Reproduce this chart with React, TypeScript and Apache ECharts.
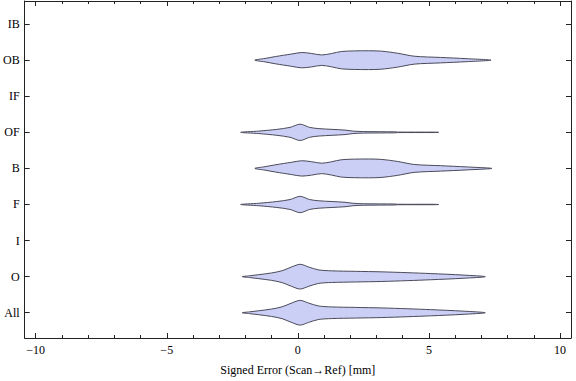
import React, { useEffect, useRef } from "react";
import * as echarts from "echarts";

// Category labels (bottom to top)
const CATEGORIES = ["All", "O", "I", "F", "B", "OF", "IF", "OB", "IB"];

// Violin shapes: x positions (mm) and relative density (half-width, max = 1)
const O_X = [-2.12, -1.85, -1.49, -1.0, -0.6, -0.23, 0.09, 0.4, 0.78, 1.29, 2.2, 3.18, 4.2, 5.07, 6.3, 7.15];
const O_D = [0, 0.07, 0.16, 0.3, 0.48, 0.79, 1, 0.79, 0.55, 0.47, 0.43, 0.39, 0.32, 0.25, 0.13, 0];

const ALL_X = [-2.12, -1.85, -1.49, -1.0, -0.6, -0.23, 0.09, 0.4, 0.78, 1.29, 2.2, 3.18, 4.2, 5.07, 6.3, 7.15];
const ALL_D = [0, 0.07, 0.16, 0.3, 0.48, 0.79, 1, 0.79, 0.55, 0.47, 0.43, 0.39, 0.32, 0.25, 0.13, 0];

const OB_X = [-1.64, -1.25, -0.86, -0.23, 0.15, 0.53, 0.91, 1.29, 1.66, 2.17, 2.7, 3.18, 3.81, 4.44, 5.44, 6.45, 7.37];
const OB_D = [0, 0.14, 0.29, 0.5, 0.62, 0.54, 0.42, 0.54, 0.7, 0.75, 0.76, 0.73, 0.56, 0.32, 0.22, 0.12, 0];

const B_X = [-1.64, -1.25, -0.86, -0.23, 0.15, 0.53, 0.91, 1.29, 1.66, 2.17, 2.7, 3.18, 3.81, 4.44, 5.44, 6.45, 7.4];
const B_D = [0, 0.14, 0.29, 0.5, 0.62, 0.54, 0.42, 0.54, 0.7, 0.75, 0.76, 0.73, 0.56, 0.32, 0.22, 0.12, 0];

const OF_X = [-2.18, -1.49, -0.8, -0.3, 0.09, 0.45, 0.8, 1.3, 1.8, 2.1, 2.5, 3.7, 3.8, 5.2, 5.37];
const OF_D = [0, 0.1, 0.24, 0.4, 0.66, 0.4, 0.3, 0.24, 0.18, 0.1, 0.06, 0.04, 0.02, 0.016, 0];

const F_X = [-2.18, -1.49, -0.8, -0.3, 0.09, 0.45, 0.8, 1.3, 1.8, 2.1, 2.5, 3.7, 3.8, 5.2, 5.37];
const F_D = [0, 0.1, 0.24, 0.4, 0.66, 0.4, 0.3, 0.24, 0.18, 0.1, 0.06, 0.04, 0.02, 0.016, 0];

const VIOLINS = [
  { cat: "All", x: ALL_X, d: ALL_D },
  { cat: "O", x: O_X, d: O_D },
  { cat: "F", x: F_X, d: F_D },
  { cat: "B", x: B_X, d: B_D },
  { cat: "OF", x: OF_X, d: OF_D },
  { cat: "OB", x: OB_X, d: OB_D },
];

const X_MAJOR = [-10, -5, 0, 5, 10];
const X_MINOR = [-9, -8, -7, -6, -4, -3, -2, -1, 1, 2, 3, 4, 6, 7, 8, 9];
const Y_TICKS = [1, 2, 3, 4, 5, 6, 7, 8, 9];

const X_MIN = -10.42;
const X_MAX = 10.42;
const Y_MIN = 0.3;
const Y_MAX = 9.64;
const HALF_WIDTH = 0.343;

const FONT = "'Liberation Serif', 'Times New Roman', serif";
const FRAME = "#222";

export default function App() {
  const ref = useRef<HTMLDivElement>(null);
  useEffect(() => {
    if (!ref.current) return;
    const chart = echarts.init(ref.current, undefined, { renderer: "svg" });
    const fmtX = (v: number) => (v < 0 ? "\u2212" + Math.abs(v) : String(v));
    const baseX = {
      type: "value" as const,
      min: X_MIN,
      max: X_MAX,
      splitLine: { show: false },
    };
    const line = { show: true, onZero: false, lineStyle: { color: FRAME, width: 1 } };
    const noLine = { show: false, onZero: false };
    chart.setOption({
      animation: false,
      backgroundColor: "#fff",
      grid: { left: 21, right: 5, top: 1, bottom: 40 },
      xAxis: [
        {
          ...baseX,
          position: "bottom",
          axisLine: line,
          axisTick: { show: true, inside: true, length: 5, customValues: X_MAJOR, lineStyle: { color: FRAME } },
          axisLabel: { customValues: X_MAJOR, formatter: fmtX, fontFamily: FONT, fontSize: 12, color: "#000", margin: 6 },
          name: "Signed Error (Scan\u2192Ref) [mm]",
          nameLocation: "middle",
          nameGap: 26,
          nameTextStyle: { fontFamily: FONT, fontSize: 12, color: "#000" },
        },
        {
          ...baseX,
          position: "bottom",
          axisLine: noLine,
          axisTick: { show: true, inside: true, length: 3, customValues: X_MINOR, lineStyle: { color: FRAME } },
          axisLabel: { show: false },
        },
        {
          ...baseX,
          position: "top",
          axisLine: line,
          axisTick: { show: true, inside: true, length: 5, customValues: X_MAJOR, lineStyle: { color: FRAME } },
          axisLabel: { show: false },
        },
        {
          ...baseX,
          position: "top",
          axisLine: noLine,
          axisTick: { show: true, inside: true, length: 3, customValues: X_MINOR, lineStyle: { color: FRAME } },
          axisLabel: { show: false },
        },
      ],
      yAxis: [
        {
          type: "value",
          position: "left",
          min: Y_MIN,
          max: Y_MAX,
          splitLine: { show: false },
          axisLine: line,
          axisTick: { show: true, inside: true, length: 5, customValues: Y_TICKS, lineStyle: { color: FRAME } },
          axisLabel: {
            customValues: Y_TICKS,
            formatter: (v: number) => CATEGORIES[Math.round(v) - 1] ?? "",
            fontFamily: FONT,
            fontSize: 12,
            color: "#000",
            margin: 5,
          },
        },
        {
          type: "value",
          position: "right",
          min: Y_MIN,
          max: Y_MAX,
          splitLine: { show: false },
          axisLine: line,
          axisTick: { show: true, inside: true, length: 5, customValues: Y_TICKS, lineStyle: { color: FRAME } },
          axisLabel: { show: false },
        },
      ],
      series: [
        {
          type: "custom",
          xAxisIndex: 0,
          yAxisIndex: 0,
          data: VIOLINS.map((v) => [CATEGORIES.indexOf(v.cat) + 1]),
          renderItem: (params: any, api: any) => {
            const v = VIOLINS[params.dataIndex];
            const yc = CATEGORIES.indexOf(v.cat) + 1;
            const n = v.x.length;
            const pts: number[][] = [];
            for (let i = 0; i < n; i++) pts.push(api.coord([v.x[i], yc + v.d[i] * HALF_WIDTH]));
            for (let i = n - 2; i >= 1; i--) pts.push(api.coord([v.x[i], yc - v.d[i] * HALF_WIDTH]));
            return {
              type: "polygon",
              shape: { points: pts, smooth: 0.3 },
              style: { fill: "rgb(203,207,245)", stroke: "#4a4a5a", lineWidth: 1 },
            };
          },
        },
      ],
    });
    return () => chart.dispose();
  }, []);
  return <div ref={ref} style={{ position: "fixed", left: 0, top: 0, width: 576, height: 381 }} />;
}
